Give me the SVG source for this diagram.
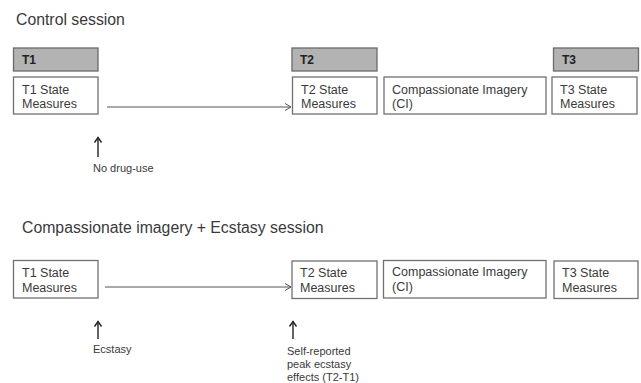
<svg xmlns="http://www.w3.org/2000/svg" width="641" height="383" viewBox="0 0 641 383">
<defs>
<style>
text{font-family:"Liberation Sans",Arial,sans-serif;fill:#3a3a3a}
.title{font-size:15.8px}
.box{fill:#fff;stroke:#707070;stroke-width:1.3}
.hdr{fill:#b3b3b3;stroke:#6a6a6a;stroke-width:1.3}
.ht{font-size:12px;font-weight:bold;fill:#222}
.bt{font-size:12.5px}
.note{font-size:11px}
.conn{stroke:#555;stroke-width:1;fill:none}
.up{stroke:#222;stroke-width:1.4;fill:none}
</style>
<marker id="ah" markerWidth="10" markerHeight="10" refX="8" refY="5" orient="auto" markerUnits="userSpaceOnUse">
<path d="M2,1.5 L8,5 L2,8.5" fill="none" stroke="#555" stroke-width="1"/>
</marker>
<marker id="uh" markerWidth="10" markerHeight="10" refX="8" refY="5" orient="auto" markerUnits="userSpaceOnUse">
<path d="M3,1.5 L8,5 L3,8.5" fill="none" stroke="#222" stroke-width="1.4"/>
</marker>
</defs>
<rect width="641" height="383" fill="#fff"/>

<text class="title" x="16" y="25">Control session</text>
<text class="title" x="22" y="233">Compassionate imagery + Ecstasy session</text>

<g id="control-t1-header"><rect class="hdr" x="13.5" y="48" width="84.5" height="23"/><text class="ht" x="22" y="64">T1</text></g>
<g id="control-t2-header"><rect class="hdr" x="292" y="48" width="85" height="23"/><text class="ht" x="300" y="64">T2</text></g>
<g id="control-t3-header"><rect class="hdr" x="553.5" y="48" width="85" height="23"/><text class="ht" x="562" y="64">T3</text></g>

<g id="control-t1"><rect class="box" x="13.5" y="77" width="84.5" height="37"/><text class="bt" x="22" y="94">T1 State</text><text class="bt" x="22" y="107.5">Measures</text></g>
<g id="control-t2"><rect class="box" x="292.5" y="77" width="84.5" height="37"/><text class="bt" x="301" y="94">T2 State</text><text class="bt" x="301" y="107.5">Measures</text></g>
<g id="control-ci"><rect class="box" x="384" y="77" width="162" height="37"/><text class="bt" x="392" y="94">Compassionate Imagery</text><text class="bt" x="392" y="107.5">(CI)</text></g>
<g id="control-t3"><rect class="box" x="552" y="77" width="85" height="37"/><text class="bt" x="560" y="94">T3 State</text><text class="bt" x="560" y="107.5">Measures</text></g>
<g id="control-note"><text class="note" x="93" y="172">No drug-use</text></g>

<g id="ecstasy-t1"><rect class="box" x="13.5" y="260.5" width="84.5" height="37.5"/><text class="bt" x="22" y="277">T1 State</text><text class="bt" x="22" y="292">Measures</text></g>
<g id="ecstasy-t2"><rect class="box" x="292" y="261" width="85" height="37.5"/><text class="bt" x="300" y="277">T2 State</text><text class="bt" x="300" y="292">Measures</text></g>
<g id="ecstasy-ci"><rect class="box" x="383.5" y="260.5" width="162.5" height="37.5"/><text class="bt" x="392" y="276">Compassionate Imagery</text><text class="bt" x="392" y="291">(CI)</text></g>
<g id="ecstasy-t3"><rect class="box" x="554" y="261" width="84" height="37.5"/><text class="bt" x="562" y="277">T3 State</text><text class="bt" x="562" y="292">Measures</text></g>
<g id="ecstasy-note1"><text class="note" x="93" y="353">Ecstasy</text></g>
<g id="ecstasy-note2"><text class="note" x="287" y="355">Self-reported</text><text class="note" x="287" y="368">peak ecstasy</text><text class="note" x="287" y="381">effects (T2-T1)</text></g>

<g id="connectors">
<line class="conn" x1="107" y1="107" x2="291" y2="107" marker-end="url(#ah)"/>
<line class="conn" x1="105" y1="287" x2="291" y2="287" marker-end="url(#ah)"/>
<line class="up" x1="98" y1="157" x2="98" y2="137.5" marker-end="url(#uh)"/>
<line class="up" x1="98" y1="339" x2="98" y2="321.5" marker-end="url(#uh)"/>
<line class="up" x1="293" y1="339" x2="293" y2="321.5" marker-end="url(#uh)"/>
</g>
</svg>
